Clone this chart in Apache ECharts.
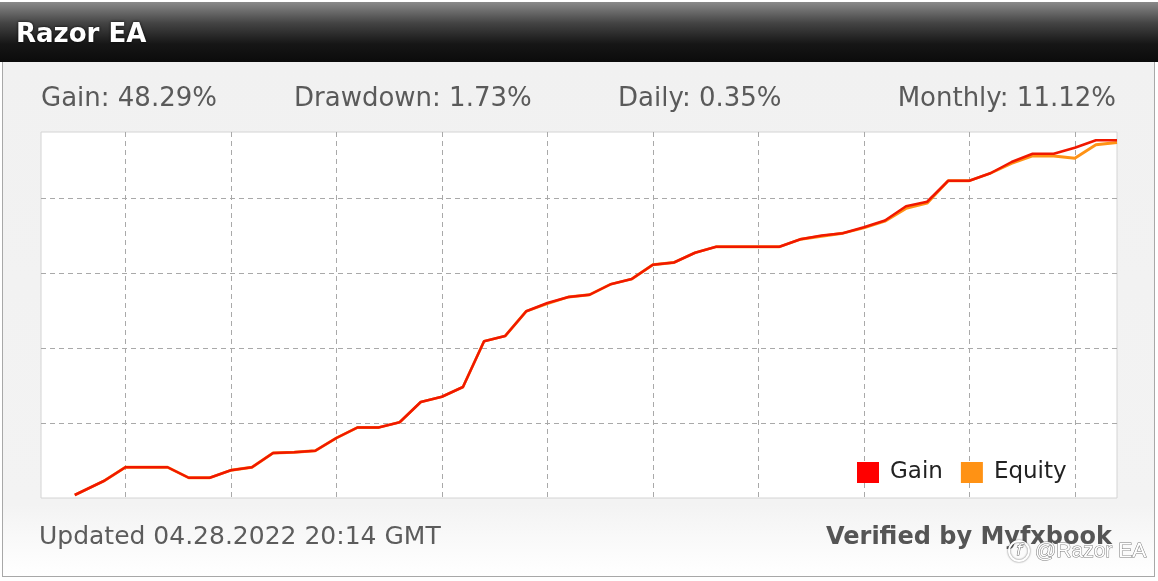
<!DOCTYPE html>
<html>
<head>
<meta charset="utf-8">
<script src="https://cdn.jsdelivr.net/npm/echarts@6/dist/echarts.min.js"></script>
<style>
  html, body { margin: 0; padding: 0; background: #ffffff; }
  #wrap { position: relative; width: 1158px; height: 581px; overflow: hidden; background: #ffffff; }
  #panel { position: absolute; left: 2px; top: 62px; width: 1151px; height: 514px;
           border: 1px solid #a8a8a8; border-top: none;
           background: linear-gradient(to bottom, #f1f1f1 0%, #f3f3f3 86%, #fbfbfb 95%, #ffffff 100%); }
  #chart { position: absolute; left: 0; top: 0; width: 1158px; height: 581px; }
</style>
</head>
<body>
<div id="wrap">
  <div id="panel"></div>
  <div id="chart"></div>
</div>
<script>
// ---- data ----
const title = 'Razor EA';
const statLabels = ['Gain: 48.29%', 'Drawdown: 1.73%', 'Daily: 0.35%', 'Monthly: 11.12%'];
const updatedText = 'Updated 04.28.2022 20:14 GMT';
const verifiedText = 'Verified by Myfxbook';
const watermarkText = '@Razor EA';
const seriesNames = ['Gain', 'Equity'];

// x position of each point, in trading days (gridlines every 5 days)
const days = [-2.4, -1, 0, 1, 2, 3, 4, 5, 6, 7, 8, 9, 10, 11, 12, 13, 14, 15, 16, 17, 18, 19,
  20, 21, 22, 23, 24, 25, 26, 27, 28, 29, 30, 31, 32, 33, 34, 35, 36, 37, 38, 39,
  40, 41, 42, 43, 44, 45, 46, 47];
// cumulative gain, %
const gain = [0.4, 2.3, 4.1, 4.1, 4.1, 2.7, 2.7, 3.7, 4.1, 6.0, 6.1, 6.3,
  8.0, 9.4, 9.4, 10.1, 12.8, 13.5, 14.8, 20.9, 21.6, 24.9,
  26.0, 26.8, 27.1, 28.5, 29.2, 31.1, 31.4, 32.7, 33.5, 33.5, 33.5, 33.5, 34.5, 35.0, 35.3, 36.1, 37.0, 38.9, 39.5, 42.3,
  42.3, 43.3, 44.8, 45.9, 45.9, 46.7, 47.7, 47.7];
// equity, %
const equity = [0.4, 2.3, 4.1, 4.1, 4.1, 2.7, 2.7, 3.7, 4.1, 6.0, 6.1, 6.3,
  8.0, 9.4, 9.4, 10.1, 12.8, 13.5, 14.8, 20.9, 21.6, 24.9,
  25.9, 26.8, 27.1, 28.5, 29.2, 31.1, 31.4, 32.7, 33.5, 33.5, 33.5, 33.5, 34.5, 34.9, 35.3, 36.0, 36.9, 38.6, 39.3, 42.3,
  42.3, 43.3, 44.6, 45.6, 45.6, 45.3, 47.1, 47.4];
// slots for the dashed weekly gridlines (first slot at left edge)
const gridSlots = Array.from({ length: 52 }, (_, i) => String(i - 4));

const chart = echarts.init(document.getElementById('chart'), null, { renderer: 'canvas' });

const FONT = '"DejaVu Sans", Verdana, Tahoma, sans-serif';
const statX = [41, 294, 618, null];

const graphics = [
  { type: 'rect', z: -10, silent: true,
    shape: { x: 0, y: 2, width: 1158, height: 60 },
    style: { fill: { type: 'linear', x: 0, y: 0, x2: 0, y2: 1,
      colorStops: [{ offset: 0, color: '#8a8a8a' }, { offset: 0.35, color: '#444444' },
                   { offset: 0.7, color: '#161616' }, { offset: 1, color: '#0b0b0b' }] } } },
  { type: 'text', z: 5, silent: true,
    style: { text: title, x: 16, y: 35, fill: '#ffffff', verticalAlign: 'middle',
      font: 'bold 26px ' + FONT, textShadowColor: 'rgba(0,0,0,0.9)', textShadowBlur: 3 } },
  { type: 'text', z: 5, silent: true,
    style: { text: updatedText, x: 39, y: 537, fill: '#5c5c5c', verticalAlign: 'middle',
      font: '25px ' + FONT } },
  { type: 'text', z: 5, silent: true,
    style: { text: verifiedText, x: 826, y: 538, fill: '#555555', verticalAlign: 'middle',
      font: 'bold 24px ' + FONT } },
  { type: 'circle', z: 6, silent: true,
    shape: { cx: 1019, cy: 551, r: 10 },
    style: { fill: 'rgba(0,0,0,0)', stroke: '#ffffff', lineWidth: 2, shadowColor: 'rgba(0,0,0,0.6)', shadowBlur: 2 } },
  { type: 'text', z: 7, silent: true,
    style: { text: 'f', x: 1019, y: 551, fill: '#ffffff', align: 'center', verticalAlign: 'middle',
      font: 'italic 16px ' + FONT, stroke: '#666666', lineWidth: 1 } },
  { type: 'text', z: 7, silent: true,
    style: { text: watermarkText, x: 1035, y: 551, fill: '#ffffff', verticalAlign: 'middle',
      font: '21px "Liberation Sans", Arial, sans-serif', stroke: '#7a7a7a', lineWidth: 1 } }
];
statLabels.forEach((s, i) => {
  const right = statX[i] === null;
  graphics.push({ type: 'text', z: 5, silent: true,
    style: { text: s, x: right ? 1116 : statX[i], y: 99, fill: '#5a5a5a',
      align: right ? 'right' : 'left', verticalAlign: 'middle', font: '26px ' + FONT } });
});

const gridDash = { color: '#a9a9a9', width: 1, type: [5, 4] };

chart.setOption({
  animation: false,
  graphic: graphics,
  grid: { left: 41, right: 41, top: 132, bottom: 83, show: true,
          backgroundColor: '#ffffff', borderColor: '#d4d4d4', borderWidth: 1 },
  legend: {
    data: seriesNames, icon: 'rect', left: 852, top: 456,
    itemWidth: 22, itemHeight: 21, itemGap: 18,
    textStyle: { fontFamily: FONT, fontSize: 23, color: '#222222', padding: [0, 0, 0, 6] }
  },
  xAxis: [
    { type: 'value', min: -4, max: 47, show: false, splitLine: { show: false } },
    { type: 'category', data: gridSlots, boundaryGap: false, gridIndex: 0,
      axisLine: { show: false }, axisTick: { show: false }, axisLabel: { show: false },
      splitLine: { show: true, interval: (idx) => idx >= 4 && (idx - 4) % 5 === 0, lineStyle: gridDash } }
  ],
  yAxis: {
    type: 'value', min: 0, max: 48.8, interval: 10,
    axisLine: { show: false }, axisTick: { show: false }, axisLabel: { show: false },
    splitLine: { show: true, showMinLine: false, showMaxLine: false, lineStyle: gridDash }
  },
  series: [
    { name: 'Equity', type: 'line', xAxisIndex: 0, z: 3, symbol: 'none',
      data: days.map((d, i) => [d, equity[i]]),
      itemStyle: { color: '#ff9214' }, lineStyle: { color: '#ff9214', width: 2.8 } },
    { name: 'Gain', type: 'line', xAxisIndex: 0, z: 4, symbol: 'none',
      data: days.map((d, i) => [d, gain[i]]),
      itemStyle: { color: '#ff0000' }, lineStyle: { color: '#f01800', width: 2.5 } }
  ]
});
</script>
</body>
</html>
